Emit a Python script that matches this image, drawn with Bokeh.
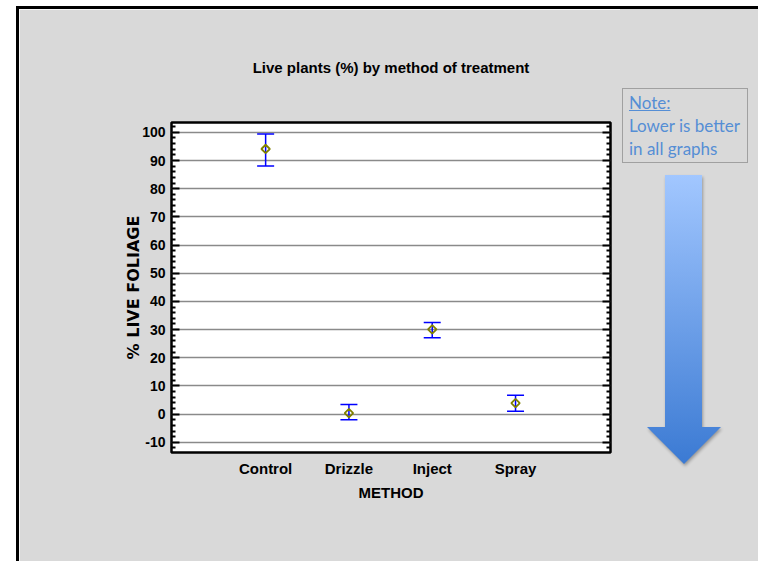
import numpy as np
from bokeh.plotting import figure
from bokeh.models import (ColumnDataSource, Whisker, TeeHead, Range1d, LinearAxis,
                          FixedTicker, Div, Spacer)
from bokeh.layouts import row, column
from bokeh.embed import file_html
from bokeh.resources import INLINE

# ---------------- data ----------------
methods = ["Control", "Drizzle", "Inject", "Spray"]
means = [94.1, 0.4, 30.1, 3.9]
lower = [88.1, -2.0, 27.1, 1.0]
upper = [99.4, 3.4, 32.5, 6.7]
y_ticks = [-10, 0, 10, 20, 30, 40, 50, 60, 70, 80, 90, 100]
title_text = "Live plants (%) by method of treatment"
x_title = "METHOD"
y_title = "% LIVE FOLIAGE"
note_lines = ["Note:", "Lower is better", "in all graphs"]

# ---------------- styles ----------------
GRAY = "#D9D9D9"
FONT = "Liberation Sans"
NOTE_BLUE = "#558ED5"

xpos = [i + 1 for i in range(len(methods))]
src = ColumnDataSource(dict(x=xpos, mean=means, lower=lower, upper=upper))

minor = [t for t in range(-12, 104, 2) if t % 10 != 0]
ticker = FixedTicker(ticks=y_ticks, minor_ticks=minor)

p = figure(width=601, height=552,
           x_range=Range1d(-0.13, 5.14), y_range=Range1d(-13.6, 103.5),
           output_backend="svg", toolbar_location=None,
           min_border_left=152, min_border_right=10,
           min_border_top=112, min_border_bottom=109,
           background_fill_color="white", border_fill_color=GRAY,
           outline_line_color="black", outline_line_width=2.5,
           title=title_text)

p.title.align = "center"
p.title.text_font = FONT
p.title.text_font_size = "15px"
p.title.text_font_style = "bold"
p.title.text_color = "black"
p.title.standoff = 94

# y axis
ya = p.yaxis[0]
ya.ticker = ticker
ya.major_label_overrides = {t: str(t) for t in y_ticks}
ya.axis_line_color = None
ya.major_tick_in = 8
ya.major_tick_out = 0
ya.minor_tick_in = 4
ya.minor_tick_out = 0
ya.major_tick_line_width = 2
ya.minor_tick_line_width = 2
ya.major_tick_line_color = "black"
ya.minor_tick_line_color = "black"
ya.major_label_text_font = FONT
ya.major_label_text_font_style = "bold"
ya.major_label_text_font_size = "14px"
ya.major_label_text_color = "black"
ya.major_label_standoff = 6
ya.axis_label = y_title
ya.axis_label_text_font = "DejaVu Sans"
ya.axis_label_text_font_style = "bold"
ya.axis_label_text_font_size = "16px"
ya.axis_label_text_color = "black"
ya.axis_label_standoff = -4

# right axis (ticks only)
ra = LinearAxis(ticker=ticker, axis_line_color=None,
                major_tick_in=8, major_tick_out=0, minor_tick_in=4, minor_tick_out=0,
                major_tick_line_width=2, minor_tick_line_width=2,
                major_tick_line_color="black", minor_tick_line_color="black",
                major_label_text_color=None, major_label_standoff=0)
p.add_layout(ra, "right")

# x axis
xa = p.xaxis[0]
xa.ticker = FixedTicker(ticks=xpos)
xa.major_label_overrides = {x: m for x, m in zip(xpos, methods)}
xa.axis_line_color = None
xa.major_tick_line_color = None
xa.minor_tick_line_color = None
xa.major_label_text_font = FONT
xa.major_label_text_font_style = "bold"
xa.major_label_text_font_size = "15px"
xa.major_label_text_color = "black"
xa.major_label_standoff = 1
xa.axis_label = x_title
xa.axis_label_text_font = FONT
xa.axis_label_text_font_style = "bold"
xa.axis_label_text_font_size = "15px"
xa.axis_label_text_color = "black"
xa.axis_label_standoff = 4

p.xgrid.visible = False
p.ygrid.ticker = ticker
p.ygrid.grid_line_color = "#8a8a8a"
p.ygrid.grid_line_width = 1.5

wk = Whisker(base="x", upper="upper", lower="lower", source=src,
             line_color="#0000FF", line_width=1.5,
             upper_head=TeeHead(size=17, line_color="#0000FF", line_width=1.5),
             lower_head=TeeHead(size=17, line_color="#0000FF", line_width=1.5))
p.add_layout(wk)

p.scatter(x="x", y="mean", source=src, marker="square", angle=np.pi / 4,
          size=6, fill_color=None, line_color="#808000", line_width=1.8)

# ---------------- right panel: note box + arrow ----------------
clip = "polygon(24.3% 0, 74.3% 0, 74.3% 87.2%, 100% 87.2%, 50% 100%, 0 87.2%, 24.3% 87.2%)"
note_html = (
    f'<div style="position:relative;width:138px;height:552px;background:{GRAY};overflow:hidden;">'
    f'<div style="position:absolute;left:2px;top:79px;width:126px;height:75px;'
    f'border:1.5px solid #A0A0A0;box-sizing:border-box;"></div>'
    f'<div style="position:absolute;left:9px;top:82px;font-family:Lato;font-size:17px;'
    f'color:{NOTE_BLUE};line-height:23px;white-space:nowrap;">'
    f'<span style="text-decoration:underline;">{note_lines[0]}</span><br>'
    f'{note_lines[1]}<br>{note_lines[2]}</div>'
    f'<div style="position:absolute;left:27px;top:166px;width:74px;height:289px;'
    f'filter:drop-shadow(1px 2px 1.5px rgba(0,0,0,0.3));">'
    f'<div style="width:100%;height:100%;background:linear-gradient(#a2c7ff,#3b7ad3);'
    f'clip-path:{clip};-webkit-clip-path:{clip};"></div></div>'
    f'</div>'
)
note = Div(text=note_html, width=138, height=552, margin=0,
           styles={"background-color": GRAY})

# ---------------- page frame lines ----------------
top_row = row(Spacer(width=16, height=3, margin=0),
              Div(text="", width=742, height=3, margin=0, styles={"background-color": "black"}))
mid_row = row(Spacer(width=16, height=552, margin=0),
              Div(text="", width=3, height=552, margin=0, styles={"background-color": "black"}),
              p, note)
layout = column(Spacer(width=758, height=6, margin=0), top_row, mid_row)

open("out.html", "w").write(file_html(layout, INLINE))
